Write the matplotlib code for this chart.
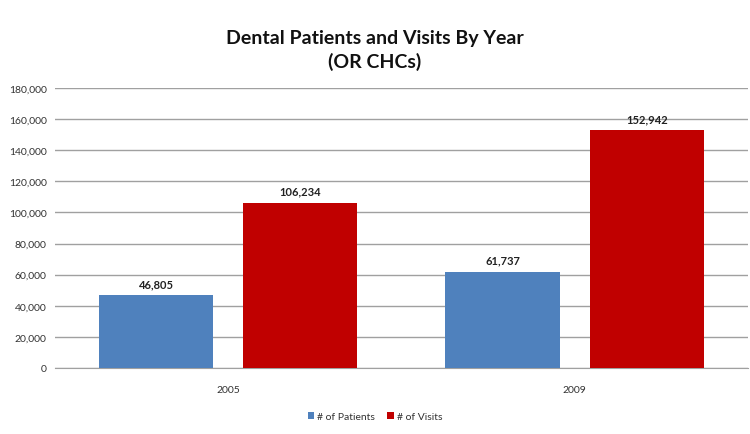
import matplotlib.pyplot as plt
import numpy as np

years = ['2005', '2009']
patients = [46805, 61737]
visits = [106234, 152942]
series_names = ['# of Patients', '# of Visits']

plt.rcParams['font.family'] = ['Lato', 'DejaVu Sans']

fig = plt.figure(figsize=(7.5, 4.35), dpi=100)
ax = fig.add_axes([0.0733, 0.152, 0.924, 0.643])

x = np.arange(len(years))
w = 0.33
off = 0.208
b1 = ax.bar(x - off, patients, w, color='#4f81bd', label=series_names[0], zorder=3)
b2 = ax.bar(x + off, visits, w, color='#c00000', label=series_names[1], zorder=3)

for bars in (b1, b2):
    for r in bars:
        ax.text(r.get_x() + r.get_width() / 2, r.get_height() + 4000,
                '{:,}'.format(int(r.get_height())), ha='center', va='bottom',
                fontsize=8, fontweight='bold', color='#222222')

ax.set_xlim(-0.5, 1.5)
ax.set_ylim(0, 180000)
ax.set_yticks(range(0, 180001, 20000))
ax.set_yticklabels(['{:,}'.format(v) for v in range(0, 180001, 20000)])
ax.set_xticks(x)
ax.set_xticklabels(years)
ax.tick_params(axis='both', length=0, labelsize=7.5, colors='#333333')
ax.tick_params(axis='x', pad=12)
ax.tick_params(axis='y', pad=6)
ax.yaxis.grid(True, color='#a0a0a0', linewidth=1)
for s in ['top', 'right', 'left']:
    ax.spines[s].set_visible(False)
ax.spines['bottom'].set_color('#a0a0a0')

fig.text(0.5, 0.884, 'Dental Patients and Visits By Year\n(OR CHCs)', ha='center',
         va='center', fontsize=14, fontweight='bold', linespacing=1.35, color='#111111')

fig.legend(loc='center', bbox_to_anchor=(0.5, 0.04), ncol=2, frameon=False,
           fontsize=7.5, handlelength=0.6, handleheight=0.6, handletextpad=0.3,
           columnspacing=1.2, labelcolor='#333333')

fig.savefig('out.png', dpi=100)
